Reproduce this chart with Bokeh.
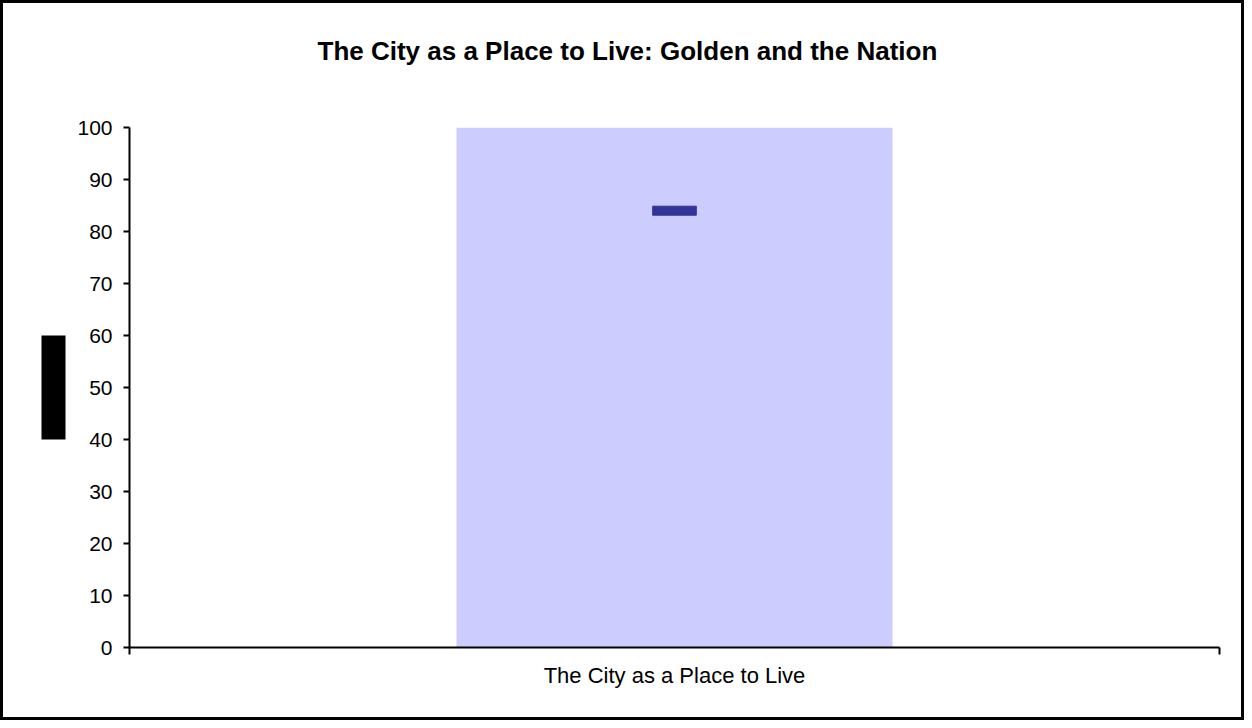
from bokeh.plotting import figure
from bokeh.models import Range1d, FixedTicker, Title, LinearAxis
from bokeh.embed import file_html
from bokeh.resources import INLINE

# ---- data ----
categories = ["The City as a Place to Live"]
range_top = [100]          # light bar (full scale)
golden_values = [84]       # dark marker
y_ticks = [0, 10, 20, 30, 40, 50, 60, 70, 80, 90, 100]
key_span = (40, 60)        # black key box span on the value axis

FONT = "Liberation Sans"

p = figure(width=1244, height=720, output_backend="svg", toolbar_location=None,
           x_range=Range1d(0, len(categories)), y_range=Range1d(0, 100),
           min_border_left=126, min_border_right=28, min_border_top=124,
           min_border_bottom=76)
p.styles = {"border": "3px solid black"}
p.title = None
# spacer between the plot area and the title (closest to the frame)
p.add_layout(Title(text=" ", text_font_size="1px", standoff=59), "above")
p.add_layout(Title(text="The City as a Place to Live: Golden and the Nation",
                   align="left", text_font=FONT, text_font_size="26px",
                   text_font_style="bold", text_color="black", standoff=0,
                   offset=188), "above")

xs = [i + 0.5 for i in range(len(categories))]
p.vbar(x=xs, top=range_top, bottom=0, width=0.4, fill_color="#CCCCFF", line_color=None)
p.rect(x=xs, y=golden_values, width=0.04, height=9, height_units="screen",
       fill_color="#333399", line_color="#333399", line_width=1)

p.outline_line_color = None
p.border_fill_color = "white"
p.background_fill_color = "white"
p.xgrid.visible = False
p.ygrid.visible = False

# x axis
xa = p.xaxis[0]
xa.ticker = FixedTicker(ticks=xs, minor_ticks=[float(i) for i in range(len(categories) + 1)])
xa.major_label_overrides = {x: c for x, c in zip(xs, categories)}
xa.major_tick_out = 0
xa.major_tick_in = 0
xa.minor_tick_out = 7
xa.minor_tick_in = 0
xa.minor_tick_line_color = "black"
xa.minor_tick_line_width = 2
xa.axis_line_color = "black"
xa.axis_line_width = 2
xa.major_label_text_font = FONT
xa.major_label_text_font_size = "22px"
xa.major_label_text_color = "black"
xa.major_label_standoff = 8

# y axis
ya = p.yaxis[0]
ya.ticker = FixedTicker(ticks=y_ticks)
ya.major_tick_out = 6
ya.major_tick_in = 0
ya.minor_tick_out = 0
ya.minor_tick_in = 0
ya.major_tick_line_color = "black"
ya.major_tick_line_width = 2
ya.axis_line_color = "black"
ya.axis_line_width = 2
ya.major_label_text_font = FONT
ya.major_label_text_font_size = "21px"
ya.major_label_text_color = "black"
ya.major_label_standoff = 11
ya.axis_label = " "
ya.axis_label_text_font_size = "1px"
ya.axis_label_standoff = 17

# black key box left of the y axis (drawn as a thick, bounded axis line)
key_axis = LinearAxis(bounds=key_span,
                      ticker=FixedTicker(ticks=[50]), major_label_overrides={50: ""},
                      major_tick_out=0, major_tick_in=0,
                      minor_tick_out=0, minor_tick_in=0,
                      axis_line_color="black", axis_line_width=24,
                      axis_line_cap="butt")
p.add_layout(key_axis, "left")

open("out.html", "w").write(file_html(p, INLINE))
